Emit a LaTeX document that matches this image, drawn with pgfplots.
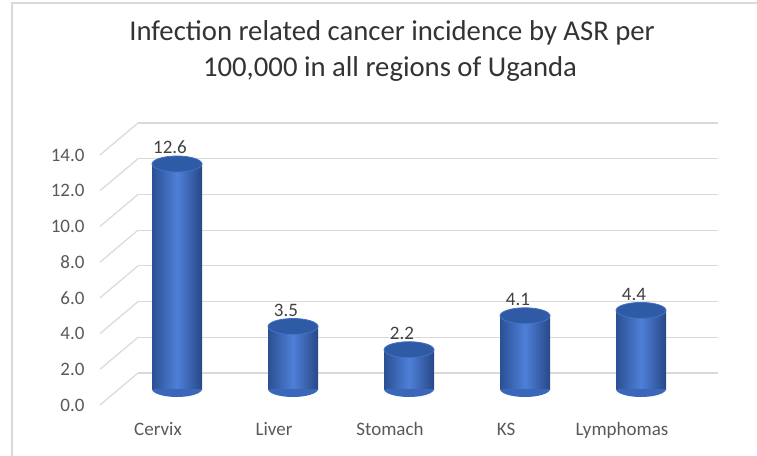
\documentclass[border=0pt]{standalone}
\usepackage{pgfplots}
\usepackage{pgfplotstable}
\pgfplotsset{compat=1.18}
\usepackage{fontspec}
\setmainfont{Carlito}
\definecolor{gridc}{HTML}{D9D9D9}
\definecolor{tickc}{HTML}{595959}
\definecolor{labc}{HTML}{404040}
\definecolor{titc}{HTML}{333333}
\definecolor{cyldark}{HTML}{2B5093}
\definecolor{cylmid}{HTML}{4E80D8}
\definecolor{cylright}{HTML}{284887}
\definecolor{cyltop}{HTML}{2F5AA5}
\definecolor{cylbot}{HTML}{3A67B9}
\definecolor{cylline}{HTML}{4472C4}

\pgfdeclareplotmark{botell}{%
  \pgfpathmoveto{\pgfqpoint{-\pgfplotmarksize}{0pt}}%
  \pgfpatharc{180}{360}{\pgfplotmarksize and 0.32\pgfplotmarksize}%
  \pgfpathclose
  \pgfusepathqfill}

\pgfplotstableread{
x v b
0 12.6 0
1 3.5 0
2 2.2 0
3 4.1 0
4 4.4 0
}\datatable

\begin{document}
\begin{tikzpicture}[x=1pt,y=1pt]
\useasboundingbox (0,0) rectangle (757,455);
\draw[gridc, line width=2pt] (12,-5) -- (12,452) -- (765,452);
\node[anchor=base, text=titc, font=\fontsize{28.7}{34}\selectfont, inner sep=0pt] at (392,414) {Infection related cancer incidence by ASR per};
\node[anchor=base, text=titc, font=\fontsize{28.7}{34}\selectfont, inner sep=0pt] at (390,378) {100,000 in all regions of Uganda};

% back wall with gridlines
\begin{axis}[at={(138pt,82pt)}, anchor=south west, scale only axis,
  width=580pt, height=250pt, xmin=-0.5, xmax=4.5, ymin=0, ymax=14,
  ytick={0,2,...,14}, xtick=\empty, yticklabels={},
  ymajorgrids, grid style={gridc, line width=1.2pt},
  axis line style={draw=none}, major tick length=0pt, clip=false]
\pgfplotsinvokeforeach{0,2,4,6,8,10,12,14}{
  \draw[gridc, line width=1.2pt] (axis cs:-0.5,#1) -- ++(-38pt,-32pt);
}
\end{axis}

% cylinders at mid depth
\begin{axis}[at={(119pt,66pt)}, anchor=south west, scale only axis,
  width=580pt, height=250pt, xmin=-0.5, xmax=4.5, ymin=0, ymax=14,
  hide axis, clip=false]
\addplot[only marks, mark=botell, mark size=25pt, mark options={fill=cylbot}]
  table[x=x, y=b] {\datatable};
\pgfplotsinvokeforeach{0,1,2,3,4}{
\addplot[ybar, bar width=50pt, bar shift=0pt, draw=none,
  left color=cyldark, right color=cylright, middle color=cylmid,
  restrict x to domain=#1:#1]
  table[x=x, y=v] {\datatable};
}
\addplot[only marks, mark=*, mark size=25pt,
  mark options={yscale=0.32, fill=cyltop, draw=cylline, line width=0.8pt},
  nodes near coords={\pgfmathprintnumber[fixed,fixed zerofill,precision=1,assume math mode=true]{\pgfplotspointmeta}},
  every node near coord/.append style={font=\fontsize{19}{23}\selectfont, text=labc, inner sep=0pt, yshift=9.5pt, xshift=-7pt}]
  table[x=x, y=v] {\datatable};
\end{axis}

% front: tick labels
\begin{axis}[at={(100pt,50pt)}, anchor=south west, scale only axis,
  width=580pt, height=250pt, xmin=-0.5, xmax=4.5, ymin=0, ymax=14,
  xtick={0,1,2,3,4}, xticklabels={Cervix,Liver,Stomach,KS,Lymphomas},
  ytick={0,2,...,14}, yticklabels={0.0,2.0,4.0,6.0,8.0,10.0,12.0,14.0},
  axis line style={draw=none}, major tick length=0pt,
  tick label style={font=\fontsize{19}{23}\selectfont, text=tickc},
  xticklabel style={anchor=base, yshift=-30pt},
  yticklabel style={anchor=east, xshift=-12pt}]
\end{axis}
\end{tikzpicture}
\end{document}
